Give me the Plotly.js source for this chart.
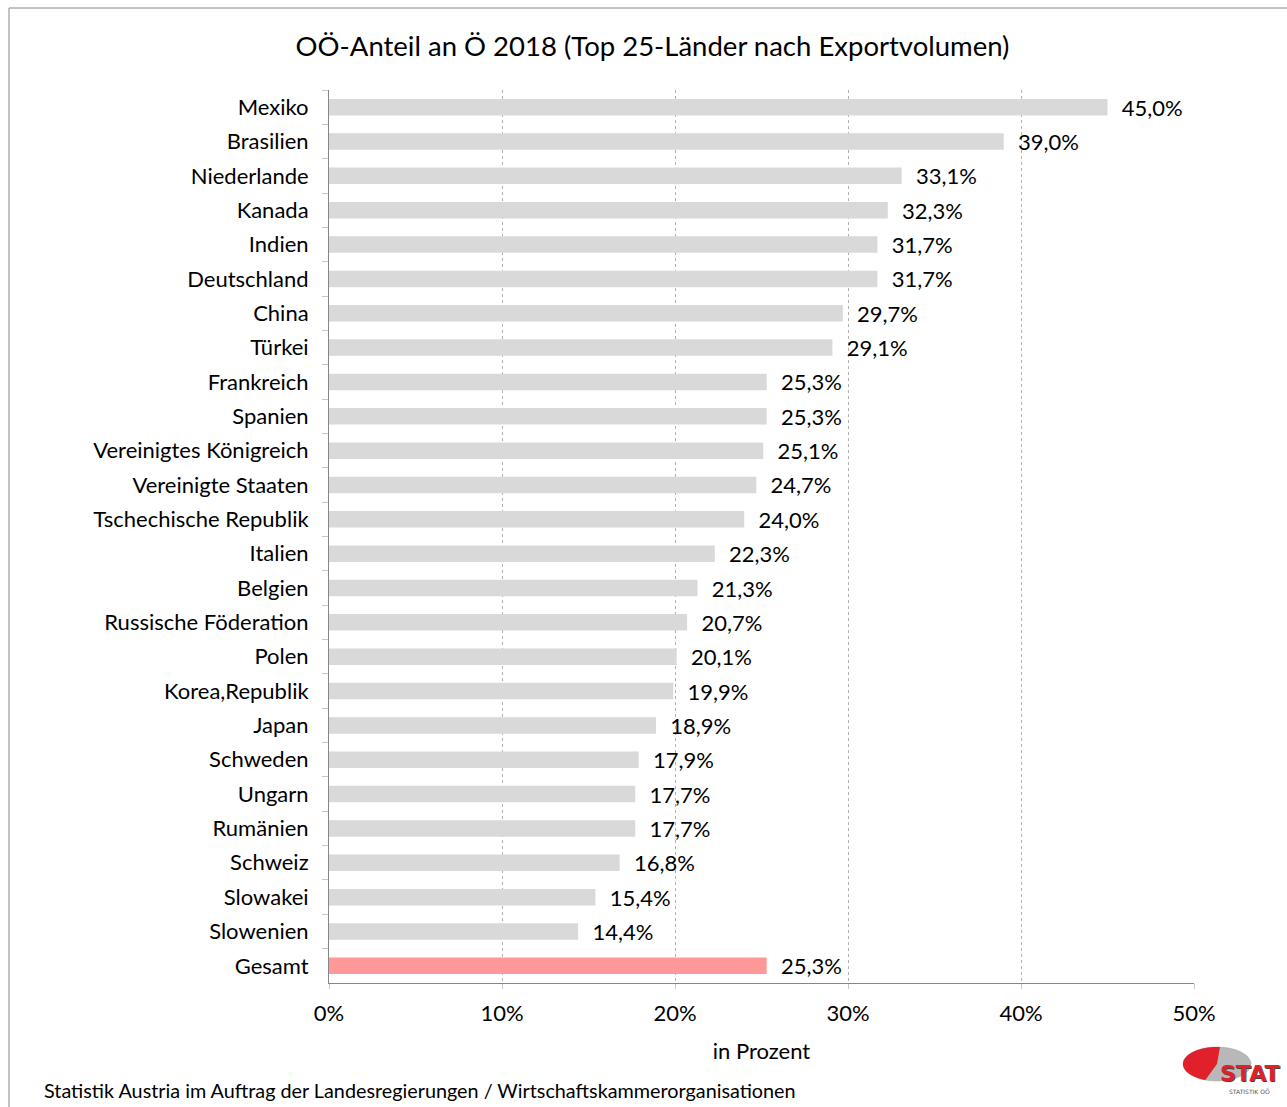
<!DOCTYPE html>
<html>
<head>
<meta charset="utf-8">
<script src="https://cdn.plot.ly/plotly-3.0.1.min.js"></script>
<style>
  html, body { margin: 0; padding: 0; background: #ffffff; }
  #chart { width: 1287px; height: 1107px; }
</style>
</head>
<body>
<div id="chart"></div>
<script>
const countries = ["Mexiko","Brasilien","Niederlande","Kanada","Indien","Deutschland","China","Türkei","Frankreich","Spanien","Vereinigtes Königreich","Vereinigte Staaten","Tschechische Republik","Italien","Belgien","Russische Föderation","Polen","Korea,Republik","Japan","Schweden","Ungarn","Rumänien","Schweiz","Slowakei","Slowenien","Gesamt"];
const shares = [45.0,39.0,33.1,32.3,31.7,31.7,29.7,29.1,25.3,25.3,25.1,24.7,24.0,22.3,21.3,20.7,20.1,19.9,18.9,17.9,17.7,17.7,16.8,15.4,14.4,25.3];
const xTickVals = [0,10,20,30,40,50];
const xTickText = ["0%","10%","20%","30%","40%","50%"];
const titleText = "OÖ-Anteil an Ö 2018 (Top 25-Länder nach Exportvolumen)";
const xTitleText = "in Prozent";
const sourceText = "Statistik Austria im Auftrag der Landesregierungen / Wirtschaftskammerorganisationen";

const FONT = "Lato, 'Noto Sans', sans-serif";
const W = 1287, H = 1107;
const M = {l: 329, r: 93, t: 90, b: 124};
const PW = W - M.l - M.r, PH = H - M.t - M.b;
const fx = px => (px - M.l) / PW;
const fy = py => (H - M.b - py) / PH;

const colors = countries.map(c => c === "Gesamt" ? "#ff9999" : "#d9d9d9");

const trace = {
  type: "bar",
  orientation: "h",
  y: countries,
  x: shares,
  marker: {color: colors, line: {width: 0}},
  texttemplate: "\u00a0\u00a0%{x:.1f}%",
  textposition: "outside",
  constraintext: "none",
  cliponaxis: false,
  textfont: {family: FONT, size: 22, color: "#000000"},
  hoverinfo: "skip"
};

// logo shapes (pixel coords converted to paper)
const cx = 1217, cy = 1064, rx = 34, ry = 17;
function ellPt(angDeg) {
  const a = angDeg * Math.PI / 180;
  return [cx + rx * Math.cos(a), cy - ry * Math.sin(a)];
}
let redPath = "M " + fx(cx) + "," + fy(cy);
for (let a = 85; a <= 250; a += 5) {
  const p = ellPt(a);
  redPath += " L " + fx(p[0]) + "," + fy(p[1]);
}
redPath += " Z";

const shapes = [
  {type: "line", xref: "paper", yref: "paper", x0: fx(9), x1: fx(1290), y0: fy(8), y1: fy(8), line: {color: "#868686", width: 1}},
  {type: "line", xref: "paper", yref: "paper", x0: fx(9), x1: fx(9), y0: fy(8), y1: fy(1110), line: {color: "#868686", width: 1}},
  {type: "circle", xref: "paper", yref: "paper", x0: fx(cx - rx), x1: fx(cx + rx), y0: fy(cy + ry), y1: fy(cy - ry), fillcolor: "#b8b8b8", line: {color: "#a0a0a0", width: 0.5}, layer: "above"},
  {type: "path", xref: "paper", yref: "paper", path: redPath, fillcolor: "#e0202a", line: {width: 0}, layer: "above"}
];

const annotations = [
  {text: sourceText, xref: "paper", yref: "paper", x: fx(42), y: fy(1090), xanchor: "left", yanchor: "middle", showarrow: false, font: {family: FONT, size: 19.8, color: "#000000"}},
  {text: "<b>STAT</b>", xref: "paper", yref: "paper", x: fx(1249), y: fy(1073), xanchor: "center", yanchor: "middle", showarrow: false, font: {family: "'DejaVu Sans', sans-serif", size: 22, color: "#e0202a", shadow: "1px 1px 0px #444444"}},
  {text: "STATISTIK OÖ", xref: "paper", yref: "paper", x: fx(1249), y: fy(1091), xanchor: "center", yanchor: "middle", showarrow: false, font: {family: "'DejaVu Sans', sans-serif", size: 6, color: "#555555"}}
];

const layout = {
  width: W, height: H,
  margin: M,
  separators: ",.",
  paper_bgcolor: "#ffffff",
  plot_bgcolor: "#ffffff",
  showlegend: false,
  bargap: 0.52,
  title: {text: titleText, x: 0.507, xanchor: "center", y: 1 - 46 / H, yanchor: "middle", font: {family: FONT, size: 27.5, color: "#000000"}},
  xaxis: {
    range: [0, 50],
    tickmode: "array",
    tickvals: xTickVals,
    ticktext: xTickText,
    showgrid: true,
    gridcolor: "#b0b0b0",
    griddash: "dot",
    gridwidth: 1,
    zeroline: false,
    showline: true,
    linecolor: "#868686",
    linewidth: 1,
    ticks: "outside",
    ticklen: 5,
    tickcolor: "#c8c8c8",
    ticklabelstandoff: 6,
    tickfont: {family: FONT, size: 22, color: "#000000"},
    title: {text: xTitleText, font: {family: FONT, size: 22, color: "#000000"}, standoff: 18},
    fixedrange: true
  },
  yaxis: {
    type: "category",
    autorange: "reversed",
    showline: true,
    linecolor: "#868686",
    linewidth: 1,
    ticks: "outside",
    tickson: "boundaries",
    ticklen: 6,
    tickcolor: "#c8c8c8",
    showgrid: false,
    tickfont: {family: FONT, size: 22, color: "#000000"},
    ticklabelstandoff: 15,
    fixedrange: true
  },
  shapes: shapes,
  annotations: annotations
};

Plotly.newPlot("chart", [trace], layout, {displayModeBar: false, staticPlot: true});
</script>
</body>
</html>
